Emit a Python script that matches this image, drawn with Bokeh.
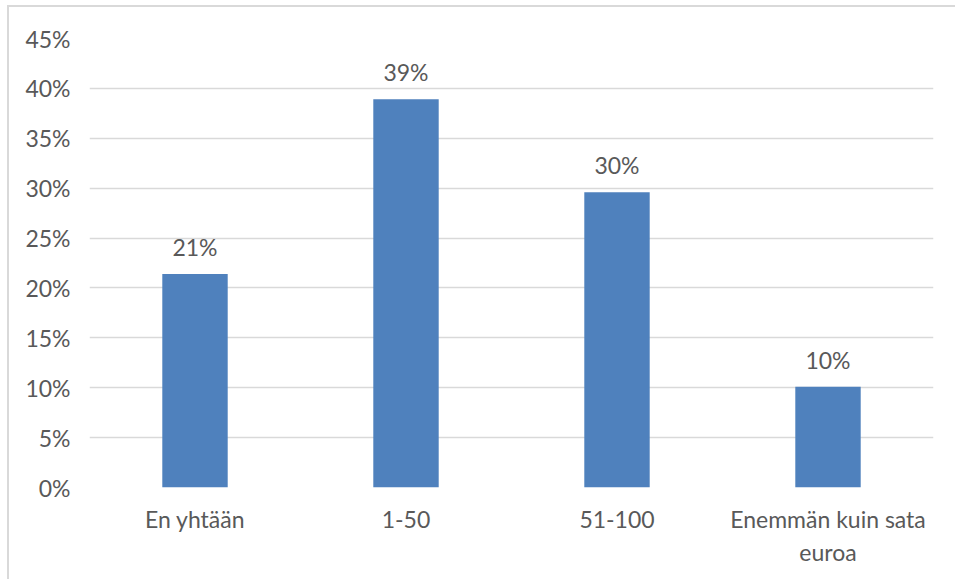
from bokeh.plotting import figure
from bokeh.models import ColumnDataSource, NumeralTickFormatter, FixedTicker, Range1d
from bokeh.core.properties import value
from bokeh.embed import file_html
from bokeh.resources import INLINE

# Share of respondents by amount spent
categories = ["En yhtään", "1-50", "51-100", "Enemmän kuin sata\neuroa"]
shares = [0.214, 0.389, 0.296, 0.101]
y_ticks = [0.0, 0.05, 0.10, 0.15, 0.20, 0.25, 0.30, 0.35, 0.40, 0.45]

labels = ["{:.0f}%".format(v * 100) for v in shares]
source = ColumnDataSource(data=dict(cat=categories, share=shares, label=labels))

FONT = "Lato"
FONT_SIZE = "23px"
TEXT_COLOR = "#595959"
GRID_COLOR = "#d9d9d9"
BAR_COLOR = "#4f81bd"

p = figure(
    x_range=categories,
    y_range=Range1d(0, 0.45),
    width=948,
    height=574,
    output_backend="svg",
    toolbar_location=None,
    min_border_left=80,
    min_border_right=24,
    min_border_top=31,
    min_border_bottom=94,
)
p.styles = {
    "margin-left": "7px",
    "margin-top": "5px",
    "border-left": "2px solid #d9d9d9",
    "border-top": "2px solid #d9d9d9",
}

p.vbar(x="cat", top="share", width=0.31, source=source,
       fill_color=BAR_COLOR, line_color=None)

p.text(x="cat", y="share", text="label", source=source,
       text_align="center", text_baseline="bottom", y_offset=-13,
       text_font=value(FONT), text_font_size=FONT_SIZE, text_color=TEXT_COLOR)

p.outline_line_color = None
p.background_fill_color = "white"
p.border_fill_color = "white"

p.xgrid.grid_line_color = None
p.ygrid.grid_line_color = GRID_COLOR
p.ygrid.grid_line_width = 1.5

p.yaxis.ticker = FixedTicker(ticks=y_ticks)
p.yaxis.formatter = NumeralTickFormatter(format="0%")

for ax in (p.xaxis[0], p.yaxis[0]):
    ax.axis_line_color = None
    ax.major_tick_line_color = None
    ax.minor_tick_line_color = None
    ax.major_tick_out = 0
    ax.major_tick_in = 0
    ax.major_label_text_font = FONT
    ax.major_label_text_font_size = FONT_SIZE
    ax.major_label_text_color = TEXT_COLOR

p.yaxis.major_label_standoff = 19
p.xaxis.major_label_standoff = 17
p.x_range.range_padding = 0

open("out.html", "w").write(file_html(p, INLINE))
